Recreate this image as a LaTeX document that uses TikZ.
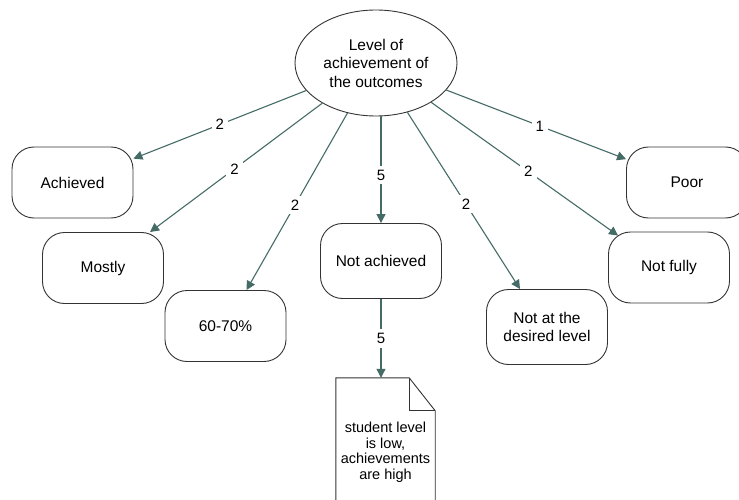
\documentclass[tikz,border=0pt]{standalone}
\usepackage{fontspec}
\setmainfont{Liberation Sans}
\usetikzlibrary{shapes.geometric,calc,arrows.meta}
\definecolor{conncol}{HTML}{456B67}
\definecolor{edgecol}{HTML}{333333}
\begin{document}
\begin{tikzpicture}[x=1pt,y=-1pt,
  box/.style={draw=edgecol, line width=0.9pt, rounded corners=22pt, minimum width=121pt, minimum height=71pt, align=center, font=\fontsize{15.5}{18}\selectfont, inner sep=2pt},
  conn/.style={draw=conncol, line width=1.1pt, -{Triangle[length=9pt,width=9pt]}},
  lab/.style={fill=white, inner sep=4pt, font=\fontsize{15}{18}\selectfont},
]
\useasboundingbox (0,0) rectangle (739,500);
\node[ellipse, draw=edgecol, line width=0.9pt, minimum width=162pt, minimum height=106pt, align=center, font=\fontsize{15.5}{18.5}\selectfont, inner sep=0pt] (top) at (376,63) {Level of\\achievement of\\the outcomes};
\node[box] (achieved) at (72.5,182.5) {Achieved};
\node[box] (mostly) at (103,268) {Mostly};
\node[box] (sixty) at (225.5,326) {60-70\%};
\node[box, minimum height=75pt] (notach) at (381,261) {Not achieved};
\node[box, minimum height=75pt] (notdes) at (547,327) {Not at the\\desired level};
\node[box] (notfully) at (669,267.5) {Not fully};
\node[box] (poor) at (687,182.5) {Poor};
\node[minimum width=99pt, minimum height=127pt, inner sep=0pt] (doc) at (385.5,441.5) {};
\draw[edgecol, line width=0.9pt] (doc.north west) -- ($(doc.north east)+(-26,0)$) -- ($(doc.north east)+(0,33)$) -- (doc.south east) -- (doc.south west) -- cycle;
\draw[edgecol, line width=0.9pt] ($(doc.north east)+(-26,0)$) -- ($(doc.north east)+(-26,33)$) -- ($(doc.north east)+(0,33)$);
\node[align=center, font=\fontsize{14.5}{15.5}\selectfont, inner sep=0pt] (doctext) at (385.5,452) {student level\\is low,\\achievements\\are high};
\draw[conn] (top) -- node[lab,pos=.5]{2} (achieved);
\draw[conn] (top) -- node[lab,pos=.51]{2} ($(mostly.north)+(47,0)$);
\draw[conn] (top) -- node[lab,pos=.52]{2} ($(sixty.north)+(21,0)$);
\draw[conn] (top.south -| notach.north) -- node[lab,pos=.55]{5} (notach.north);
\draw[conn] (top) -- node[lab,pos=.52]{2} ($(notdes.north)+(-27,0)$);
\draw[conn] (top) -- node[lab,pos=.52]{2} ($(notfully.north west)+(10,4)$);
\draw[conn] (top) -- node[lab,pos=.52]{1} (poor);
\draw[conn] (notach.south) -- node[lab,pos=.5]{5} (notach.south |- doc.north);
\end{tikzpicture}
\end{document}
